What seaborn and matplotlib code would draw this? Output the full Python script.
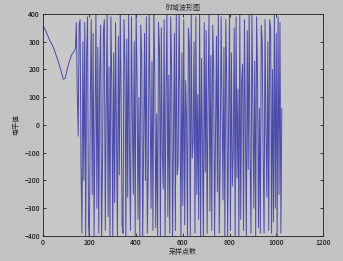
import matplotlib
matplotlib.use("Agg")
import matplotlib.pyplot as plt
import seaborn as sns
import pandas as pd

# ---- data ----
head_x = [0, 10, 20, 30, 40, 50, 60, 70, 80, 88, 96, 105, 115, 125, 135, 140]
head_y = [360, 345, 325, 305, 290, 270, 245, 220, 190, 165, 168, 200, 232, 255, 265, 275]

# sampling grid of the oscillating part (every 4th sample point)
osc_x = list(range(144, 1025, 4))
osc_y = [370, 120, -40, 360, 380, -150, -390, 300, -200, 370,
         -410, 250, 390, -350, -420, 100, 380, -250, 330, -400,
         20, 400, -300, 280, -390, 180, 360, -420, -150, 340,
         380, -380, 60, 410, -330, 210, -400, 390, 140, -410,
         260, -280, 370, -50, -400, 320, -180, 420, 90, -360,
         -390, 380, 230, -420, 310, -260, 400, -120, -380, 390,
         30, -250, 300, -400, 410, 170, -340, 100, -410, 360,
         250, -420, -80, 330, -200, 390, -390, -160, 400, 80,
         -300, 230, -380, 420, 190, -370, 40, -400, 370, 270,
         -410, 350, -100, -230, 380, -400, 120, 410, -330, 180,
         -390, 390, 210, -420, -40, 330, -380, 400, -180, -140,
         420, 60, -410, 260, -290, 380, -360, 160, 20, -400,
         350, 290, -410, 400, -120, -60, 300, -390, 390, -250,
         110, -340, 410, -400, 240, -70, -420, 370, -170, 340,
         -390, 90, 400, -310, 250, -380, 360, 200, -400, -60,
         320, -240, 410, -390, -130, 390, 40, -270, 280, -410,
         380, 170, -400, 0, 420, -380, 260, -220, -90, 350,
         -400, 390, -190, 130, -410, 400, -340, 160, 220, -380,
         380, -30, -410, 340, -160, 420, -120, -390, 400, 70,
         -300, 230, -400, 390, 180, -370, 60, -390, 360, 300,
         -110, -390, 380, -20, -260, 300, -380, 380, 350, -390,
         200, -350, 410, -300, 330, -410, 390, -250, 370, -390,
         60]

x_ticks = [0, 200, 400, 600, 800, 1000, 1200]
y_ticks = [-400, -300, -200, -100, 0, 100, 200, 300, 400]

title_text = "时域波形图"
x_label = "采样点数"
y_label = "电平值"

df = pd.DataFrame({"x": head_x + osc_x, "y": head_y + osc_y})

sns.set_style("ticks")
plt.rcParams["font.family"] = ["Noto Sans CJK SC", "DejaVu Sans"]

fig = plt.figure(figsize=(3.43, 2.61), dpi=100, facecolor="#c2c2c2")
ax = fig.add_axes([0.1245, 0.0958, 0.817, 0.8506])
ax.set_facecolor("#c8c8c8")

sns.lineplot(data=df, x="x", y="y", sort=False, estimator=None,
             color="#3535a8", linewidth=0.7, alpha=0.85, ax=ax)

ax.set_xlim(0, 1200)
ax.set_ylim(-400, 400)
ax.set_xticks(x_ticks)
ax.set_yticks(y_ticks)
ax.tick_params(direction="in", length=2.5, width=0.5, labelsize=5,
               top=True, right=True, pad=2, colors="black")
for s in ax.spines.values():
    s.set_linewidth(0.6)
    s.set_color("#202020")
    s.set_visible(True)

ax.set_title(title_text, fontsize=5, pad=3)
ax.set_xlabel(x_label, fontsize=5, labelpad=1)
ax.set_ylabel(y_label, fontsize=5, labelpad=3)

fig.savefig("out.png", dpi=100, facecolor=fig.get_facecolor())
